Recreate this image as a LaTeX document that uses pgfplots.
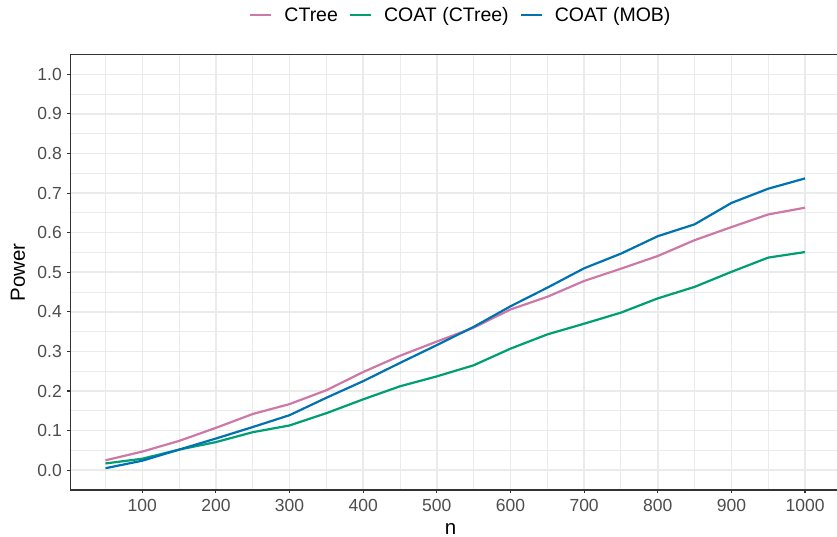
\documentclass[border=0pt]{standalone}
\usepackage{pgfplots}
\pgfplotsset{compat=1.18}
\usepackage{fontspec}
\setmainfont{Liberation Sans}
\definecolor{cpink}{HTML}{CC79A7}
\definecolor{cgreen}{HTML}{009E73}
\definecolor{cblue}{HTML}{0072B2}
\definecolor{gridc}{HTML}{EBEBEB}
\definecolor{axc}{HTML}{333333}
\definecolor{tickc}{HTML}{4D4D4D}
\begin{document}
\begin{tikzpicture}
\useasboundingbox (-70.5pt,-47pt) rectangle (766.5pt,490pt);
\begin{axis}[
  at={(0pt,0pt)}, anchor=south west,
  scale only axis, width=769.5pt, height=435.5pt,
  xmin=2.5, xmax=1047.5, ymin=-0.05, ymax=1.05,
  axis line style={draw=axc, line width=1.1pt},
  xtick={100,200,...,1000},
  minor xtick={50,150,...,950},
  ytick={0,0.1,...,1.0},
  minor ytick={0.05,0.15,...,0.95},
  grid=both,
  major grid style={draw=gridc, line width=1.5pt},
  minor grid style={draw=gridc, line width=1.0pt},
  tick align=outside, xtick pos=bottom, ytick pos=left,
  major tick length=3.5pt, minor tick length=0pt,
  every tick/.style={draw=axc, line width=1.1pt},
  /pgf/number format/assume math mode=true,
  yticklabel style={/pgf/number format/fixed, /pgf/number format/fixed zerofill, /pgf/number format/precision=1},
  xticklabel style={/pgf/number format/fixed, /pgf/number format/1000 sep={}},
  ticklabel style={font=\fontsize{17.5}{20}\selectfont, text=tickc},
  xticklabel style={inner sep=0pt, yshift=-5.5pt},
  yticklabel style={inner sep=0pt, xshift=-5pt},
  xlabel={n}, ylabel={Power},
  every axis x label/.style={at={(rel axis cs:0.494,0)}, yshift=-38.5pt, anchor=center, font=\fontsize{20.5}{24}\selectfont},
  every axis y label/.style={at={(rel axis cs:0,0.5)}, xshift=-52.5pt, rotate=90, anchor=center, font=\fontsize{20.5}{24}\selectfont},
  legend columns=3,
  legend style={draw=none, fill=none, at={(rel axis cs:0.506,1.0907)}, anchor=center,
    font=\fontsize{19.5}{23}\selectfont, nodes={inner sep=0pt},
    /tikz/every odd column/.append style={column sep=12pt},
    /tikz/every even column/.append style={column sep=11pt}},
  legend image code/.code={\draw[#1] (0pt,0pt) -- (21pt,0pt);},
  every axis plot/.append style={line width=2.2pt},
]
\addplot[cpink] coordinates {
(50,0.025) (100,0.047) (150,0.074) (200,0.107) (250,0.142) (300,0.167) (350,0.202)
(400,0.248) (450,0.289) (500,0.325) (550,0.360) (600,0.406) (650,0.438) (700,0.478)
(750,0.509) (800,0.541) (850,0.581) (900,0.614) (950,0.646) (1000,0.663)};
\addlegendentry{CTree}
\addplot[cgreen] coordinates {
(50,0.017) (100,0.029) (150,0.052) (200,0.071) (250,0.096) (300,0.113) (350,0.144)
(400,0.179) (450,0.212) (500,0.237) (550,0.265) (600,0.307) (650,0.343) (700,0.370)
(750,0.398) (800,0.434) (850,0.463) (900,0.501) (950,0.537) (1000,0.551)};
\addlegendentry{COAT (CTree)}
\addplot[cblue] coordinates {
(50,0.005) (100,0.024) (150,0.052) (200,0.080) (250,0.109) (300,0.139) (350,0.183)
(400,0.225) (450,0.271) (500,0.316) (550,0.362) (600,0.414) (650,0.461) (700,0.510)
(750,0.547) (800,0.591) (850,0.621) (900,0.675) (950,0.711) (1000,0.737)};
\addlegendentry{COAT (MOB)}
\end{axis}
\end{tikzpicture}
\end{document}
